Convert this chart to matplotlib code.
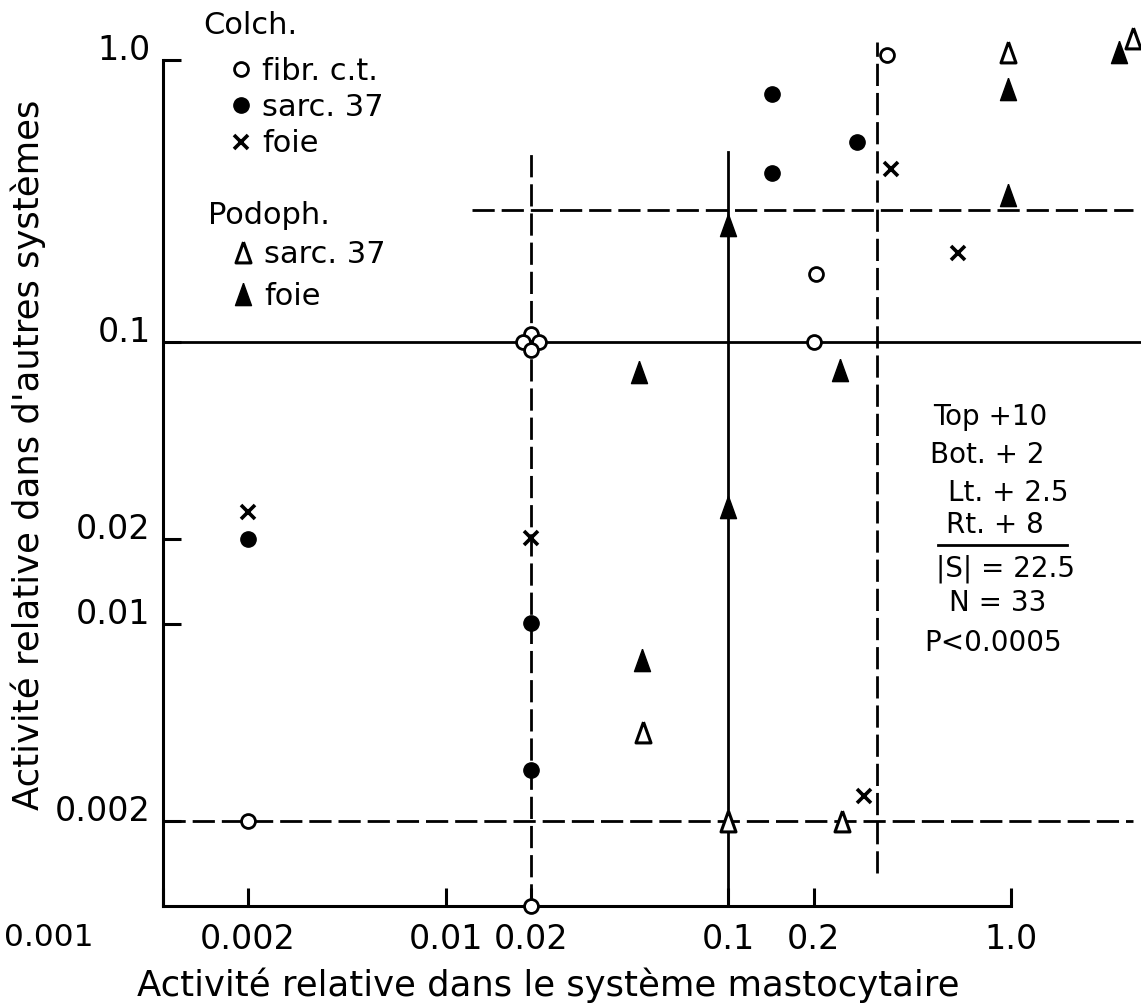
import matplotlib.pyplot as plt
from matplotlib.lines import Line2D
from matplotlib.transforms import ScaledTranslation

plt.rcParams['font.family'] = ['DejaVu Sans']
plt.rcParams['lines.scale_dashes'] = False

# Colch. - fibr. c.t. (open circles)
fibr_x = [0.002, 0.02, 0.0187, 0.0213, 0.02, 0.02, 0.204, 0.2, 0.364]
fibr_y = [0.002, 0.107, 0.1, 0.1, 0.0935, 0.001, 0.174, 0.1, 1.04]
# Colch. - sarc. 37 (filled circles)
sarc_c_x = [0.002, 0.02, 0.02, 0.143, 0.143, 0.285]
sarc_c_y = [0.02, 0.0101, 0.00303, 0.758, 0.397, 0.512]
# Colch. - foie (x)
foie_c_x = [0.002, 0.02, 0.376, 0.65, 0.302]
foie_c_y = [0.025, 0.0202, 0.411, 0.207, 0.00245]
# Podoph. - sarc. 37 (open triangles)
sarc_p_x = [0.0499, 0.1, 0.252, 0.976, 2.70]
sarc_p_y = [0.00414, 0.002, 0.002, 1.07, 1.197]
# Podoph. - foie (filled triangles)
foie_p_x = [0.0483, 0.1, 0.1, 0.0495, 0.248, 0.976, 0.976, 2.41]
foie_p_y = [0.078, 0.26, 0.026, 0.00744, 0.0796, 0.789, 0.332, 1.07]

# median / quadrant lines
h_solid = [(0.1, 0.001, 2.88)]
h_dashed = [(0.293, 0.0124, 2.70), (0.002, 0.001, 2.70)]
v_solid = [(0.1, 0.001, 0.472)]
v_dashed = [(0.02, 0.001, 0.48), (0.335, 0.00131, 1.16)]

xticks = [0.001, 0.002, 0.01, 0.02, 0.1, 0.2, 1.0]
xticklabels = ['0.001', '0.002', '0.01', '0.02', '0.1', '0.2', '1.0']
yticks = [0.002, 0.01, 0.02, 0.1, 1.0]
yticklabels = ['0.002', '0.01', '0.02', '0.1', '1.0']

stats = ['Top +10', 'Bot. + 2', 'Lt. + 2.5', 'Rt. + 8', '|S| = 22.5', 'N = 33', 'P<0.0005']

W, H = 1141, 1008
fig = plt.figure(figsize=(W / 100, H / 100), dpi=100)
ax = fig.add_axes([163 / W, 102 / H, 978 / W, 846 / H])
ax.set_xscale('log')
ax.set_yscale('log')
ax.set_xlim(0.001, 2.88)
ax.set_ylim(0.001, 1.0)

lw = 2.0
dash = (16, 5)
for y, x0, x1 in h_solid:
    ax.plot([x0, x1], [y, y], color='black', lw=lw, clip_on=False, zorder=1)
for y, x0, x1 in h_dashed:
    ax.plot([x0, x1], [y, y], color='black', lw=lw, dashes=dash, clip_on=False, zorder=1)
for x, y0, y1 in v_solid:
    ax.plot([x, x], [y0, y1], color='black', lw=lw, clip_on=False, zorder=1)
for x, y0, y1 in v_dashed:
    ax.plot([x, x], [y0, y1], color='black', lw=lw, dashes=dash, clip_on=False, zorder=1)

# taller-than-wide triangle, like the drawn symbols
tri = [(0, 1), (-0.72, -1), (0.72, -1), (0, 1)]

sty_fibr = dict(marker='o', ms=10, mfc='white', mec='black', mew=2)
sty_sarc_c = dict(marker='o', ms=11, mfc='black', mec='black')
sty_foie_c = dict(marker='x', ms=10, mec='black', mew=2.6)
sty_sarc_p = dict(marker=tri, ms=15, mfc='white', mec='black', mew=2.2)
sty_foie_p = dict(marker=tri, ms=16, mfc='black', mec='black')

kw = dict(ls='none', clip_on=False, zorder=3)
ax.plot(fibr_x, fibr_y, **sty_fibr, **kw)
ax.plot(sarc_c_x, sarc_c_y, **sty_sarc_c, **kw)
ax.plot(foie_c_x, foie_c_y, **sty_foie_c, **kw)
ax.plot(sarc_p_x, sarc_p_y, **sty_sarc_p, **kw)
ax.plot(foie_p_x, foie_p_y, **sty_foie_p, **kw)

ax.spines['top'].set_visible(False)
ax.spines['right'].set_visible(False)
ax.spines['left'].set_bounds(0.001, 1.0)
ax.spines['bottom'].set_bounds(0.001, 1.0)
ax.spines['left'].set_linewidth(2.2)
ax.spines['bottom'].set_linewidth(2.2)

ax.set_xticks(xticks)
ax.set_xticklabels(xticklabels)
ax.set_yticks(yticks)
ax.set_yticklabels(yticklabels)
ax.minorticks_off()
ax.tick_params(axis='both', direction='in', length=13, width=2.2, labelsize=24)
ax.tick_params(axis='x', pad=12)
ax.tick_params(axis='y', pad=9)
for lab in ax.get_yticklabels():
    lab.set_va('baseline')
# the 0.001 label sits left of the axis corner in the original
lab0 = ax.xaxis.get_major_ticks()[0].label1
lab0.set_fontsize(22.5)
lab0.set_transform(lab0.get_transform() + ScaledTranslation(-1.14, 0, fig.dpi_scale_trans))

fig.text(548 / W, 1 - 985 / H, 'Activité relative dans le système mastocytaire',
         ha='center', va='center', fontsize=25.5)
fig.text(28 / W, 1 - 455 / H, "Activité relative dans d'autres systèmes",
         ha='center', va='center', rotation=90, fontsize=25.5)

# legends: group headers plus entries
fig.text(203 / W, 1 - 25 / H, 'Colch.', ha='left', va='center', fontsize=22)
fig.text(208 / W, 1 - 215 / H, 'Podoph.', ha='left', va='center', fontsize=22)

h = lambda sty: Line2D([], [], ls='none', **sty)
leg1 = ax.legend([h(sty_fibr), h(sty_sarc_c), h(sty_foie_c)], ['fibr. c.t.', 'sarc. 37', 'foie'],
                 loc='upper left', bbox_to_anchor=(226 / W, 1 - 57 / H),
                 bbox_transform=fig.transFigure, frameon=False, fontsize=22,
                 borderpad=0, borderaxespad=0, handlelength=1.0, handletextpad=0.18,
                 labelspacing=0.235, numpoints=1)
ax.add_artist(leg1)
leg2 = ax.legend([h(sty_sarc_p), h(sty_foie_p)], ['sarc. 37', 'foie'],
                 loc='upper left', bbox_to_anchor=(228 / W, 1 - 240 / H),
                 bbox_transform=fig.transFigure, frameon=False, fontsize=22,
                 borderpad=0, borderaxespad=0, handlelength=1.0, handletextpad=0.18,
                 labelspacing=0.41, numpoints=1)

# sign test summary
stat_x = [990, 987, 1008, 995, 1005, 998, 993]
stat_y = [417, 455, 493, 525, 569, 603, 643]
for s, sx, sy in zip(stats, stat_x, stat_y):
    fig.text(sx / W, 1 - sy / H, s, ha='center', va='center', fontsize=20)
fig.add_artist(Line2D([938 / W, 1067 / W], [1 - 545 / H, 1 - 545 / H],
                      transform=fig.transFigure, color='black', lw=2))

fig.savefig('out.png', dpi=100)
